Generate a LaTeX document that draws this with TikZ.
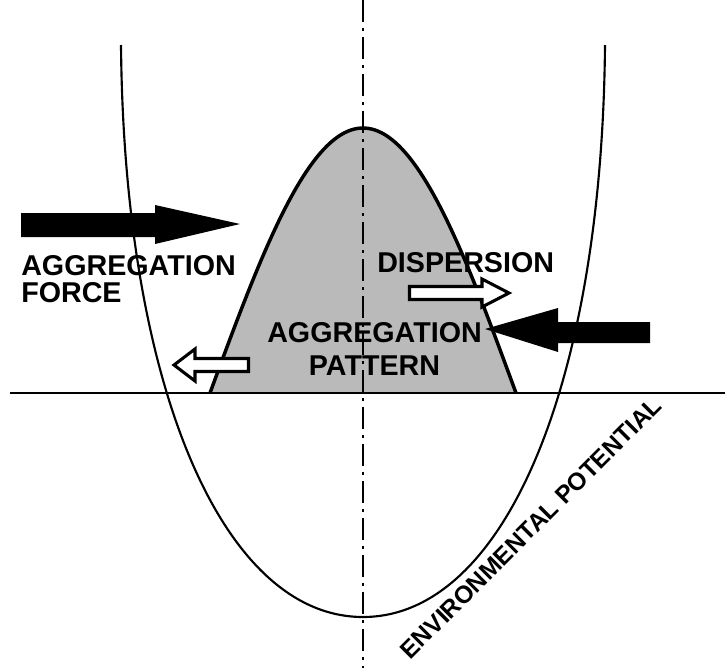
\documentclass[tikz,border=0pt]{standalone}
\usepackage{fontspec}
\setmainfont{Liberation Sans}
\begin{document}
\begin{tikzpicture}[x=0.75pt,y=-0.75pt,
  lbl/.style={inner sep=0pt, font=\fontsize{21.5}{24}\selectfont\bfseries},
  lblsmall/.style={inner sep=0pt, font=\fontsize{18.4}{22}\selectfont\bfseries},
  axisline/.style={line width=2pt},
  centerline/.style={line width=1.5pt, dash pattern=on 16.5pt off 4.5pt on 2.25pt off 4.5pt},
  ucurve/.style={line width=1.6pt},
  humpfill/.style={fill=black!27},
  humpline/.style={line width=2.6pt},
  solidarrow/.style={fill=black},
  hollowarrow/.style={fill=white, draw=black, line width=2.3pt, line join=miter}]
\useasboundingbox (0,0) rectangle (725,668);
\fill[white] (0,0) rectangle (725,668);

% aggregation pattern (hump)
\fill[humpfill] plot[domain=210:516,samples=90] (\x,{393-265*cos((\x-363)/306*180)}) -- cycle;

% vertical centre line
\coordinate (vtop) at (363,0);
\coordinate (vbot) at (363,668);
\draw[centerline] (vtop) -- (vbot);

% hump outline
\draw[humpline] plot[domain=210:516,samples=90] (\x,{393-265*cos((\x-363)/306*180)});

% horizontal axis
\coordinate (hl) at (10,393);
\coordinate (hr) at (725,393);
\draw[axisline] (hl) -- (hr);

% environmental potential curve
\coordinate (utl) at (121,45);
\coordinate (ubot) at (363,617);
\coordinate (utr) at (605,45);
\draw[ucurve] (utl) .. controls (124,385) and (222,617) .. (ubot)
                    .. controls (504,617) and (602,385) .. (utr);

% labels
\node[lbl, anchor=base west] (force1) at (21,275) {AGGREGATION};
\node[lbl, anchor=base west] (force2) at (21,302) {FORCE};
\node[lbl, anchor=base west] (disp) at (377,272) {DISPERSION};
\node[lbl, anchor=base] (pat1) at (374.5,342) {AGGREGATION};
\node[lbl, anchor=base] (pat2) at (374.5,375) {PATTERN};
\node[lblsmall, rotate=45] (env) at (531,528) {ENVIRONMENTAL POTENTIAL};

% aggregation force arrows
\fill[solidarrow] (21,213) -- (155,213) -- (155,205) -- (240,224) -- (155,244) -- (155,237) -- (21,237) -- cycle;
\fill[solidarrow] (650,322) -- (558,322) -- (558,308) -- (485,329) -- (558,352) -- (558,343) -- (650,343) -- cycle;

% dispersion arrows
\draw[hollowarrow] (409.5,286.5) -- (482,286.5) -- (482,279) -- (509,293) -- (482,307) -- (482,299.5) -- (409.5,299.5) -- cycle;
\draw[hollowarrow] (248.5,358.5) -- (195,358.5) -- (195,349) -- (174,365) -- (195,381) -- (195,371.5) -- (248.5,371.5) -- cycle;
\end{tikzpicture}
\end{document}
